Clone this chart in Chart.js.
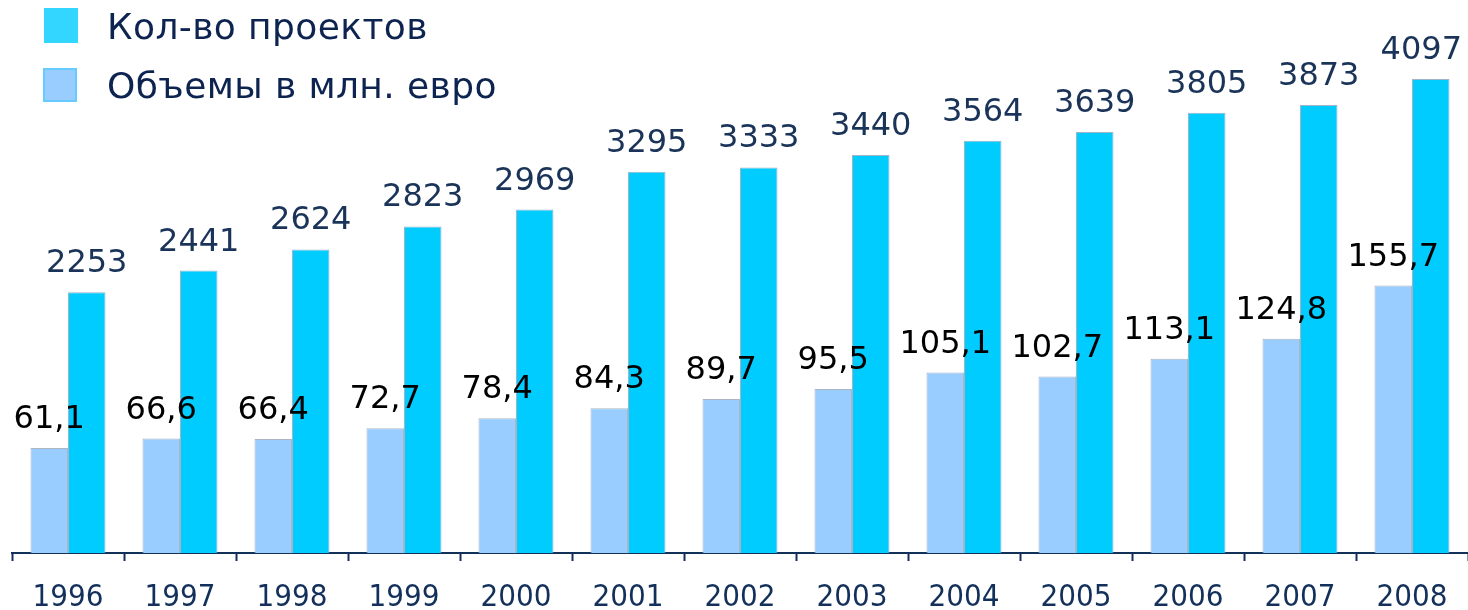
<!DOCTYPE html>
<html>
<head>
<meta charset="utf-8">
<script src="https://cdn.jsdelivr.net/npm/chart.js@4/dist/chart.umd.min.js"></script>
<style>
    html, body { margin: 0; padding: 0; background: #fff; overflow: hidden; }
    #wrap { position: relative; width: 1468px; height: 610px; }
    #legend { position: absolute; left: 0; top: 0; font-family: 'DejaVu Sans', Verdana, sans-serif; font-size: 36px; line-height: 36px; letter-spacing: 0.4px; color: #0d2350; }
    .item { position: absolute; white-space: nowrap; }
    .sw { position: absolute; box-sizing: border-box; }
</style>
</head>
<body>
<div id="wrap">
    <canvas id="chart" width="1468" height="610"></canvas>
    <div id="legend"></div>
</div>
<script>
    const years = ['1996', '1997', '1998', '1999', '2000', '2001', '2002', '2003', '2004', '2005', '2006', '2007', '2008'];
    const projects = [2253, 2441, 2624, 2823, 2969, 3295, 3333, 3440, 3564, 3639, 3805, 3873, 4097];
    const volumes = [61.1, 66.6, 66.4, 72.7, 78.4, 84.3, 89.7, 95.5, 105.1, 102.7, 113.1, 124.8, 155.7];
    const projectsLabel = 'Кол-во проектов';
    const volumesLabel = 'Объемы в млн. евро';

    const NAVY = '#12305a';

    // legend as plain html, cyan item first like the original
    const legend = document.getElementById('legend');
    legend.innerHTML =
        '<div class="sw" style="left:44px;top:8px;width:34px;height:35px;background:#33d6ff"></div>' +
        '<div class="item" style="left:107px;top:9px">' + projectsLabel + '</div>' +
        '<div class="sw" style="left:43px;top:68px;width:34px;height:34px;background:#99ccff;border:2px solid #66ccff"></div>' +
        '<div class="item" style="left:107px;top:68px">' + volumesLabel + '</div>';

    const valueLabels = {
        id: 'valueLabels',
        afterDatasetsDraw(chart) {
            const ctx = chart.ctx;
            ctx.save();
            ctx.font = '32px "DejaVu Sans", Verdana, sans-serif';
            ctx.textAlign = 'center';
            ctx.textBaseline = 'alphabetic';
            chart.data.datasets.forEach((ds, i) => {
                const meta = chart.getDatasetMeta(i);
                ctx.fillStyle = i === 0 ? '#000000' : '#1a3358';
                meta.data.forEach((bar, j) => {
                    const v = ds.data[j];
                    const txt = i === 0 ? v.toFixed(1).replace('.', ',') : String(v);
                    // keep the last label inside the canvas
                    const half = ctx.measureText(txt).width / 2;
                    const x = Math.min(bar.x, chart.width - 6 - half);
                    ctx.fillText(txt, x, bar.y - 20);
                });
            });
            ctx.restore();
        }
    };

    new Chart(document.getElementById('chart'), {
        type: 'bar',
        data: {
            labels: years,
            datasets: [
                {
                    label: volumesLabel,
                    data: volumes,
                    yAxisID: 'yVol',
                    backgroundColor: '#99ccff',
                    borderColor: '#aab6c4',
                    borderWidth: 1,
                    categoryPercentage: 0.67,
                    barPercentage: 1.0,
                },
                {
                    label: projectsLabel,
                    data: projects,
                    yAxisID: 'yProj',
                    backgroundColor: '#00ccff',
                    borderColor: '#9fb4c8',
                    borderWidth: 1,
                    categoryPercentage: 0.67,
                    barPercentage: 1.0,
                }
            ]
        },
        options: {
            responsive: false,
            animation: false,
            devicePixelRatio: 1,
            layout: { padding: { left: 12, right: 0, top: 0, bottom: 0 } },
            plugins: {
                legend: { display: false },
                tooltip: { enabled: false }
            },
            scales: {
                x: {
                    offset: true,
                    afterFit: (scale) => { scale.height = 57; },
                    grid: {
                        offset: true,
                        drawOnChartArea: false,
                        drawTicks: true,
                        tickLength: 8,
                        tickWidth: 2,
                        tickColor: NAVY
                    },
                    border: { display: true, color: NAVY, width: 2 },
                    ticks: {
                        color: NAVY,
                        padding: 18,
                        font: { family: '"DejaVu Sans Condensed", "DejaVu Sans", sans-serif', size: 31 }
                    }
                },
                yVol: {
                    display: false,
                    min: 0,
                    max: 322
                },
                yProj: {
                    display: false,
                    min: 0,
                    max: 4780
                }
            }
        },
        plugins: [valueLabels]
    });
</script>
</body>
</html>
